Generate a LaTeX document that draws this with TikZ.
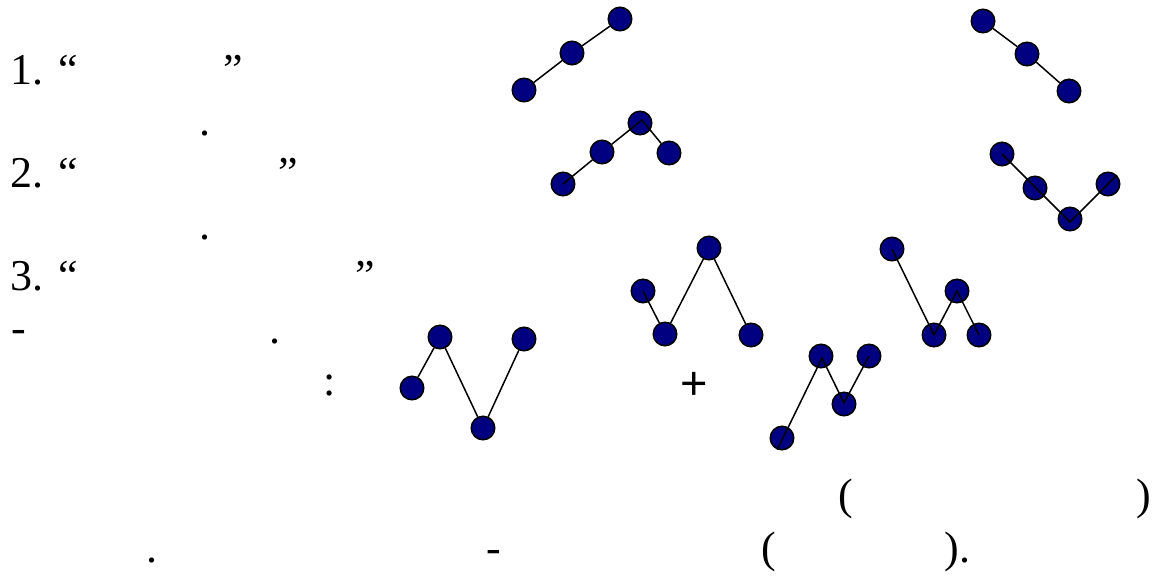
\documentclass[tikz,border=0pt]{standalone}
\usepackage{fontspec}
\setmainfont{Liberation Serif}
\newfontfamily\plusfont{Liberation Sans}
\usetikzlibrary{calc}
\definecolor{ballblue}{RGB}{0,0,128}
\begin{document}
\begin{tikzpicture}[x=0.5pt,y=-0.5pt,
  ball/.style={circle,draw=black,fill=ballblue,minimum size=11.75pt,inner sep=0pt,line width=0.75pt},
  bond/.style={draw=black,line width=0.75pt},
  txt/.style={anchor=base west,inner sep=0pt,font=\fontsize{22}{22}\selectfont}]
\useasboundingbox (0,0) rectangle (1155,579);
% ---- texts ----
\node[txt] (t1a) at (10,84) {1. “};
\node[txt] (t1b) at (223,84) {”};
\node[txt] (p1) at (199.5,135.5) {.};
\node[txt] (t2a) at (10.5,187) {2. “};
\node[txt] (t2b) at (278,187) {”};
\node[txt] (p2) at (199.5,239.5) {.};
\node[txt] (t3a) at (10,290) {3. “};
\node[txt] (t3b) at (355,290) {”};
\node[txt] (dash1) at (11,342) {-};
\node[txt] (p3) at (269.5,343) {.};
\node[txt] (colon) at (323,395) {:};
\node[inner sep=0pt,font=\plusfont\fontsize{23.5}{23.5}\selectfont] (plus) at (694,386) {+};
\node[txt] (lp1) at (838,509) {(};
\node[txt] (rp1) at (1136,509) {)};
\node[txt] (p4) at (146,562) {.};
\node[txt] (dash2) at (486,562) {-};
\node[txt] (lp2) at (761,562) {(};
\node[txt] (rp2) at (944,562) {).};
% ---- chain A ----
\node[ball] (a1) at (524,90) {};
\node[ball] (a2) at (572,53) {};
\node[ball] (a3) at (620,19) {};
\draw[bond] (a1) -- (a2) -- (a3);
% ---- chain B ----
\node[ball] (b1) at (983,21) {};
\node[ball] (b2) at (1027,54) {};
\node[ball] (b3) at (1069,91) {};
\draw[bond] (b1) -- (b2) -- (b3);
% ---- chain C ----
\node[ball] (c1) at (563,184) {};
\node[ball] (c2) at (602,152) {};
\node[ball] (c3) at (640,123) {};
\node[ball] (c4) at (669,153) {};
\coordinate (c3p) at (642,120);
\draw[bond] (c1.center) -- (c2);
\draw[bond] (c2) -- (c3p) -- (c4);
% ---- chain D ----
\node[ball] (d1) at (1002,154) {};
\node[ball] (d2) at (1035,188) {};
\node[ball] (d3) at (1070,219) {};
\node[ball] (d4) at (1108,184) {};
\coordinate (d3p) at (1070,222);
\draw[bond] (d1.center) -- (d3p) -- (d4.45);
% ---- chain E ----
\node[ball] (e1) at (412,388) {};
\node[ball] (e2) at (440,337) {};
\node[ball] (e3) at (483,428) {};
\node[ball] (e4) at (524,339) {};
\draw[bond] (e1) -- (e2) -- (e3) -- (e4);
% ---- chain F ----
\node[ball] (f1) at (643,291) {};
\node[ball] (f2) at (665,334) {};
\node[ball] (f3) at (709,248) {};
\node[ball] (f4) at (751,335) {};
\draw[bond] (f1.center) -- (f2);
\draw[bond] (f2) -- (f3) -- (f4);
% ---- chain G ----
\node[ball] (g1) at (782,438) {};
\node[ball] (g2) at (821,356) {};
\node[ball] (g3) at (844,404) {};
\node[ball] (g4) at (869,356) {};
\coordinate (g2p) at (822,358);
\coordinate (g3p) at (844,403);
\draw[bond] (g1.248) -- (g2p) -- (g3p) -- (g4.center);
% ---- chain H ----
\node[ball] (h1) at (892,249) {};
\node[ball] (h2) at (934,335) {};
\node[ball] (h3) at (957,291) {};
\node[ball] (h4) at (979,335) {};
\draw[bond] (h1.center) -- (h2.center) -- (h3.center) -- (h4.center);
\end{tikzpicture}
\end{document}
